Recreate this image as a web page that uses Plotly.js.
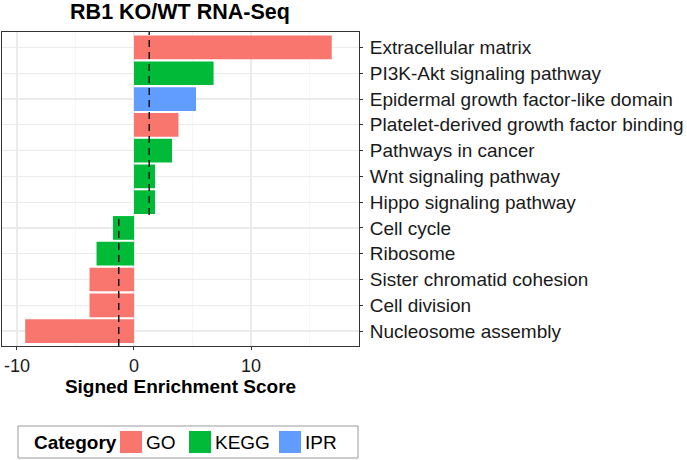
<!DOCTYPE html>
<html><head><meta charset="utf-8">
<script src="https://cdn.plot.ly/plotly-3.0.1.min.js"></script>
<style>html,body{margin:0;padding:0;background:#fff}#chart{width:687px;height:460px}</style>
</head><body><div id="chart"></div>
<script>
// Terms from top to bottom
const terms = ["Extracellular matrix","PI3K-Akt signaling pathway","Epidermal growth factor-like domain","Platelet-derived growth factor binding","Pathways in cancer","Wnt signaling pathway","Hippo signaling pathway","Cell cycle","Ribosome","Sister chromatid cohesion","Cell division","Nucleosome assembly"];
const scores = [16.9, 6.8, 5.3, 3.8, 3.25, 1.8, 1.8, -1.8, -3.2, -3.8, -3.8, -9.3];
const categories = ["GO","KEGG","IPR","GO","KEGG","KEGG","KEGG","KEGG","KEGG","GO","GO","GO"];
const categoryNames = ["GO","KEGG","IPR"];
const categoryColors = {GO:"#F8766D", KEGG:"#00BA38", IPR:"#619CFF"};
const threshold = 1.3;
const xTicks = [-10, 0, 10];

const order = terms.slice().reverse(); // bottom to top
const traces = categoryNames.map(c => {
  const ys = [], xs = [];
  terms.forEach((t,i) => { if (categories[i] === c) { ys.push(t); xs.push(scores[i]); } });
  return {type:"bar", orientation:"h", name:c, x:xs, y:ys, width:0.92, showlegend:false,
    marker:{color:categoryColors[c], line:{width:0}}, hoverinfo:"x+y"};
});

const firstNeg = order.indexOf("Cell cycle");
const shapes = [
  {type:"line", xref:"x", yref:"y", x0:threshold, x1:threshold, y0:firstNeg+0.5, y1:11.6,
   line:{color:"#000", width:1.3, dash:"7px,5px"}},
  {type:"line", xref:"x", yref:"y", x0:-threshold, x1:-threshold, y0:-0.58, y1:firstNeg+0.5,
   line:{color:"#000", width:1.3, dash:"7px,5px"}}
];

// Legend drawn with paper-referenced shapes/annotations (pixel positions converted)
const PL = 2, PW = 357, PB = 346, PH = 314;
const px = v => (v - PL) / PW, py = v => (PB - v) / PH;
const annotations = [];
shapes.push({type:"rect", xref:"paper", yref:"paper", x0:px(18), x1:px(358), y0:py(426), y1:py(458),
  line:{color:"#9a9a9a", width:1}, fillcolor:"rgba(0,0,0,0)"});
annotations.push({xref:"paper", yref:"paper", x:px(32), y:py(442), xanchor:"left", yanchor:"middle",
  text:"<b>Category</b>", showarrow:false, font:{size:19, color:"#000"}});
const legendPos = [{sw:120, tx:144}, {sw:189, tx:213}, {sw:279, tx:303}];
categoryNames.forEach((c,i) => {
  const p = legendPos[i];
  shapes.push({type:"rect", xref:"paper", yref:"paper", x0:px(p.sw), x1:px(p.sw+22), y0:py(431), y1:py(453),
    line:{width:0}, fillcolor:categoryColors[c]});
  annotations.push({xref:"paper", yref:"paper", x:px(p.tx), y:py(442), xanchor:"left", yanchor:"middle",
    text:c, showarrow:false, font:{size:19, color:"#000"}});
});

const layout = {
  width:687, height:460,
  margin:{l:2, r:328, t:32, b:114},
  paper_bgcolor:"#fff", plot_bgcolor:"#fff",
  font:{family:"Liberation Sans, Arial, sans-serif", size:18, color:"#000"},
  title:{text:"<b>RB1 KO/WT RNA-Seq</b>", x:0.262, xanchor:"center", y:0.975, yanchor:"middle",
    font:{size:21.5, color:"#000"}},
  barmode:"overlay",
  showlegend:false,
  xaxis:{range:[-11.28, 19.23], tickvals:xTicks, ticktext:xTicks.map(String), zeroline:false,
    showgrid:true, gridcolor:"#EBEBEB", gridwidth:1.2,
    minor:{tickvals:[-5,5,15], showgrid:true, gridcolor:"#F2F2F2", gridwidth:0.7, ticks:""},
    ticks:"outside", ticklen:3, tickcolor:"#333", tickfont:{size:18, color:"#1a1a1a"},
    showline:true, mirror:true, linecolor:"#333", linewidth:1,
    title:{text:"<b>Signed Enrichment Score</b>", font:{size:19, color:"#000"}, standoff:2}},
  yaxis:{type:"category", categoryorder:"array", categoryarray:order, range:[-0.58, 11.6],
    side:"right", showgrid:true, gridcolor:"#EBEBEB", gridwidth:1.2,
    ticks:"outside", ticklen:3, tickcolor:"#333", tickfont:{size:19, color:"#1a1a1a"},
    ticklabelstandoff:3,
    showline:true, mirror:true, linecolor:"#333", linewidth:1},
  shapes:shapes,
  annotations:annotations
};

Plotly.newPlot("chart", traces, layout, {displayModeBar:false, staticPlot:true});
</script></body></html>
